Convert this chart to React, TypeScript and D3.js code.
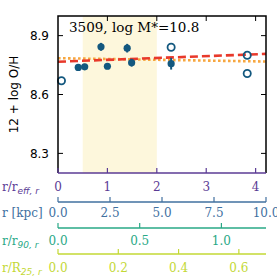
import * as d3 from "d3";

// filled points (with error bars)
const filledR = [0.41, 0.54, 0.87, 1.0, 1.4, 1.49, 2.29];
const filledOH = [8.738, 8.741, 8.843, 8.744, 8.836, 8.762, 8.757];
const filledErr = [0.015, 0.015, 0.02, 0.015, 0.022, 0.02, 0.03];

// open circles
const openR = [0.07, 2.29, 3.83, 3.83];
const openOH = [8.67, 8.841, 8.8, 8.707];

// fit lines: [r, O/H] at both ends
const redFitR = [0, 4.21];
const redFitOH = [8.767, 8.807];
const orangeFitR = [0, 4.21];
const orangeFitOH = [8.785, 8.768];

const bandR = [0.5, 2.0];
const yTicks = [8.3, 8.6, 8.9];

const reffTicks = [0, 1, 2, 3, 4];
const kpcTicks = [0, 2.5, 5, 7.5, 10];
const r90Ticks = [0, 0.5, 1.0];
const r25Ticks = [0, 0.2, 0.4, 0.6];

const W = 277;
const H = 277;
const left = 58;
const right = 266;
const top = 16;
const bottom = 173;

const blue = "#13587f";
const purple = "#5b3b95";
const steel = "#41709f";
const teal = "#29a886";
const lime = "#c3d835";

export default function App() {
  const x = d3.scaleLinear().domain([0, 4.21]).range([left, right]);
  const y = d3.scaleLinear().domain([8.2, 9.0]).range([bottom, top]);

  const fitLine = d3
    .line<[number, number]>()
    .x((d) => x(d[0]))
    .y((d) => y(d[1]));

  const axes = [
    { name: "r/r", sub: "eff, r", ticks: reffTicks, dom: [0, 4.21], lineY: bottom, labY: 191, color: purple, fmt: d3.format("d") },
    { name: "r [kpc]", sub: "", ticks: kpcTicks, dom: [0, 10], lineY: 202, labY: 217, color: steel, fmt: d3.format(".1f") },
    { name: "r/r", sub: "90, r", ticks: r90Ticks, dom: [0, 1.273], lineY: 228, labY: 245, color: teal, fmt: d3.format(".1f") },
    { name: "r/R", sub: "25, r", ticks: r25Ticks, dom: [0, 0.69], lineY: 254, labY: 272, color: lime, fmt: d3.format(".1f") },
  ];

  return (
    <svg width={W} height={H} style={{ position: "absolute", left: 0, top: 0, background: "#fff" }}>
      <rect x={x(bandR[0])} y={top} width={x(bandR[1]) - x(bandR[0])} height={bottom - top} fill="#fdf7dc" />

      {/* fit lines */}
      <path
        d={fitLine(orangeFitR.map((r, i) => [r, orangeFitOH[i]] as [number, number])) ?? ""}
        stroke="#f7a740"
        strokeWidth={2.6}
        strokeDasharray="2.6,2.4"
        fill="none"
      />
      <path
        d={fitLine(redFitR.map((r, i) => [r, redFitOH[i]] as [number, number])) ?? ""}
        stroke="#e8392b"
        strokeWidth={2.6}
        strokeDasharray="8,4"
        fill="none"
      />

      {/* filled points */}
      {filledR.map((r, i) => (
        <g key={"f" + i}>
          <line x1={x(r)} x2={x(r)} y1={y(filledOH[i] - filledErr[i])} y2={y(filledOH[i] + filledErr[i])} stroke={blue} strokeWidth={2} />
          <circle cx={x(r)} cy={y(filledOH[i])} r={3.6} fill={blue} />
        </g>
      ))}
      {openR.map((r, i) => (
        <circle key={"o" + i} cx={x(r)} cy={y(openOH[i])} r={3.6} fill="none" stroke={blue} strokeWidth={1.8} />
      ))}

      {/* frame */}
      <path d={`M${left},${bottom}V${top}H${right}V${bottom}`} stroke="#000" strokeWidth={1.5} fill="none" />
      {yTicks.map((t) => (
        <g key={"y" + t}>
          <line x1={left} x2={left + 5} y1={y(t)} y2={y(t)} stroke="#000" strokeWidth={1} />
          <line x1={right - 5} x2={right} y1={y(t)} y2={y(t)} stroke="#000" strokeWidth={1} />
          <text x={left - 9} y={y(t) + 4.5} textAnchor="end" fontFamily="DejaVu Sans" fontSize={12} fill="#000">
            {t.toFixed(1)}
          </text>
        </g>
      ))}
      {reffTicks.slice(1).map((t) => (
        <line key={"tt" + t} x1={x(t)} x2={x(t)} y1={top} y2={top + 5} stroke="#000" strokeWidth={1} />
      ))}
      <text
        transform={`translate(18,${(top + bottom) / 2}) rotate(-90)`}
        textAnchor="middle"
        fontFamily="DejaVu Sans"
        fontSize={12}
        fill="#000"
      >
        12 + log O/H
      </text>

      <text x={69} y={32} fontFamily="DejaVu Serif" fontSize={13.5} fill="#000">
        3509, log M*=10.8
      </text>

      {/* stacked bottom axes */}
      {axes.map((a, k) => {
        const s = d3.scaleLinear().domain(a.dom).range([left, right]);
        return (
          <g key={"ax" + k}>
            <line x1={left} x2={right} y1={a.lineY} y2={a.lineY} stroke={a.color} strokeWidth={k === 0 ? 1.6 : 1.3} />
            {a.ticks.map((t) => (
              <g key={t}>
                <line x1={s(t)} x2={s(t)} y1={a.lineY} y2={a.lineY - 5} stroke={a.color} strokeWidth={1.2} />
                <text x={s(t)} y={a.labY} textAnchor="middle" fontFamily="DejaVu Serif" fontSize={12} fill={a.color}>
                  {a.fmt(t)}
                </text>
              </g>
            ))}
            <text x={2} y={a.labY} fontFamily="DejaVu Serif" fontSize={12} fill={a.color}>
              {a.name}
              {a.sub && (
                <tspan dy={3} fontSize={9} fontStyle="italic" fontFamily="DejaVu Sans">
                  {a.sub}
                </tspan>
              )}
            </text>
          </g>
        );
      })}
    </svg>
  );
}
